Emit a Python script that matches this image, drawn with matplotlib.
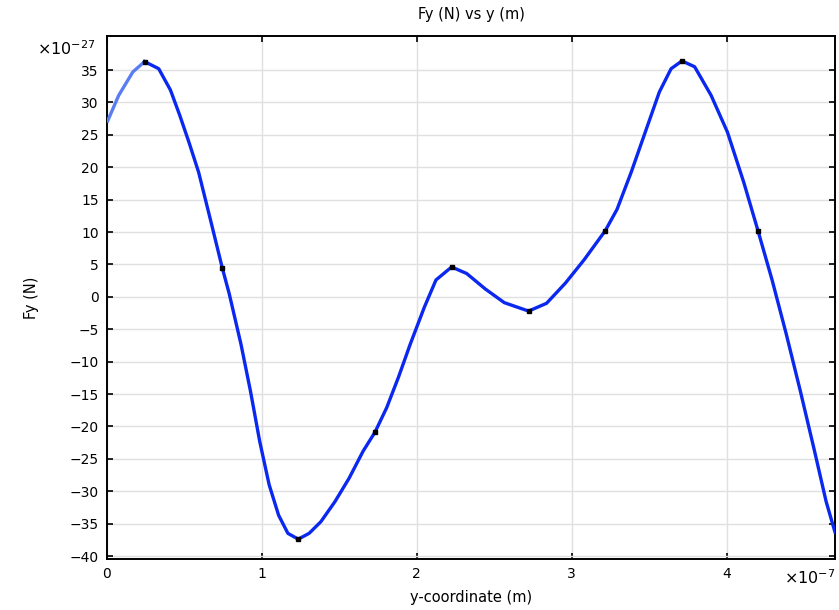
import numpy as np
import matplotlib.pyplot as plt

# curve; x in units of 1e-7 m, Fy in units of 1e-27 N
y_coord = [0.0, 0.076, 0.167, 0.243, 0.334, 0.41, 0.47, 0.53, 0.592, 0.668,
           0.744, 0.789, 0.865, 0.926, 0.986, 1.047, 1.108, 1.168, 1.235, 1.305,
           1.381, 1.472, 1.563, 1.654, 1.73, 1.806, 1.882, 1.958, 2.049, 2.124,
           2.225, 2.322, 2.443, 2.565, 2.722, 2.838, 2.959, 3.08, 3.217, 3.293,
           3.384, 3.475, 3.566, 3.642, 3.712, 3.794, 3.9, 4.006, 4.112, 4.203,
           4.294, 4.385, 4.476, 4.568, 4.643, 4.70]
fy = [26.9, 31.1, 34.7, 36.3, 35.2, 31.9, 28.0, 23.8, 19.2, 11.9,
      4.5, 0.5, -7.3, -14.5, -22.3, -29.0, -33.7, -36.5, -37.4, -36.5,
      -34.7, -31.6, -28.0, -23.8, -20.9, -17.1, -12.4, -7.3, -1.6, 2.6,
      4.6, 3.6, 1.2, -0.9, -2.2, -1.0, 2.1, 5.7, 10.2, 13.5,
      19.2, 25.4, 31.6, 35.2, 36.4, 35.5, 31.1, 25.4, 17.6, 10.2,
      2.6, -5.7, -14.5, -23.8, -31.6, -36.3]

# solution points (black dots)
pt_x = [0.243, 0.744, 1.235, 1.73, 2.225, 2.722, 3.217, 3.712, 4.203]
pt_y = [36.3, 4.5, -37.4, -20.9, 4.6, -2.2, 10.2, 36.4, 10.2]

xticks = [0, 1, 2, 3, 4]
yticks = list(range(-40, 40, 5))

plt.rcParams['font.family'] = ['DejaVu Sans']
fig = plt.figure(figsize=(8.39, 6.10), dpi=100)
ax = fig.add_axes([0.1275, 0.0836, 0.8677, 0.8574])

x = np.array(y_coord)
v = np.array(fy)
first = x <= 0.243
rest = x >= 0.243
# first stretch of the curve is drawn in a lighter blue
ax.plot(x[first], v[first], color='#5a7ef2', lw=2.4, solid_capstyle='butt', zorder=3)
ax.plot(x[rest], v[rest], color='#0a28f0', lw=2.4, solid_joinstyle='round', zorder=3)
ax.plot(pt_x, pt_y, 's', color='black', ms=2.2, zorder=4)

ax.set_xlim(0, 4.70)
ax.set_ylim(-40.46, 40.25)
ax.set_xticks(xticks)
ax.set_yticks(yticks)
ax.grid(True, color='#e0e0e0', lw=1.0)
ax.set_axisbelow(True)
ax.tick_params(direction='in', length=4, width=1.2, top=True, right=True,
               labelsize=10, colors='black', pad=6)
for s in ax.spines.values():
    s.set_linewidth(1.4)

ax.set_title('Fy (N) vs y (m)', fontsize=10.5, pad=12)
ax.set_xlabel('y-coordinate (m)', fontsize=10.5, labelpad=6)
ax.set_ylabel('Fy (N)', fontsize=10.5, labelpad=22)
ax.text(-0.016, 0.975, r'$\times10^{-27}$', transform=ax.transAxes, fontsize=11.5,
        ha='right', va='center')
ax.text(1.0, -0.036, r'$\times10^{-7}$', transform=ax.transAxes, fontsize=11.5,
        ha='right', va='center')

fig.savefig('out.png', dpi=100)
